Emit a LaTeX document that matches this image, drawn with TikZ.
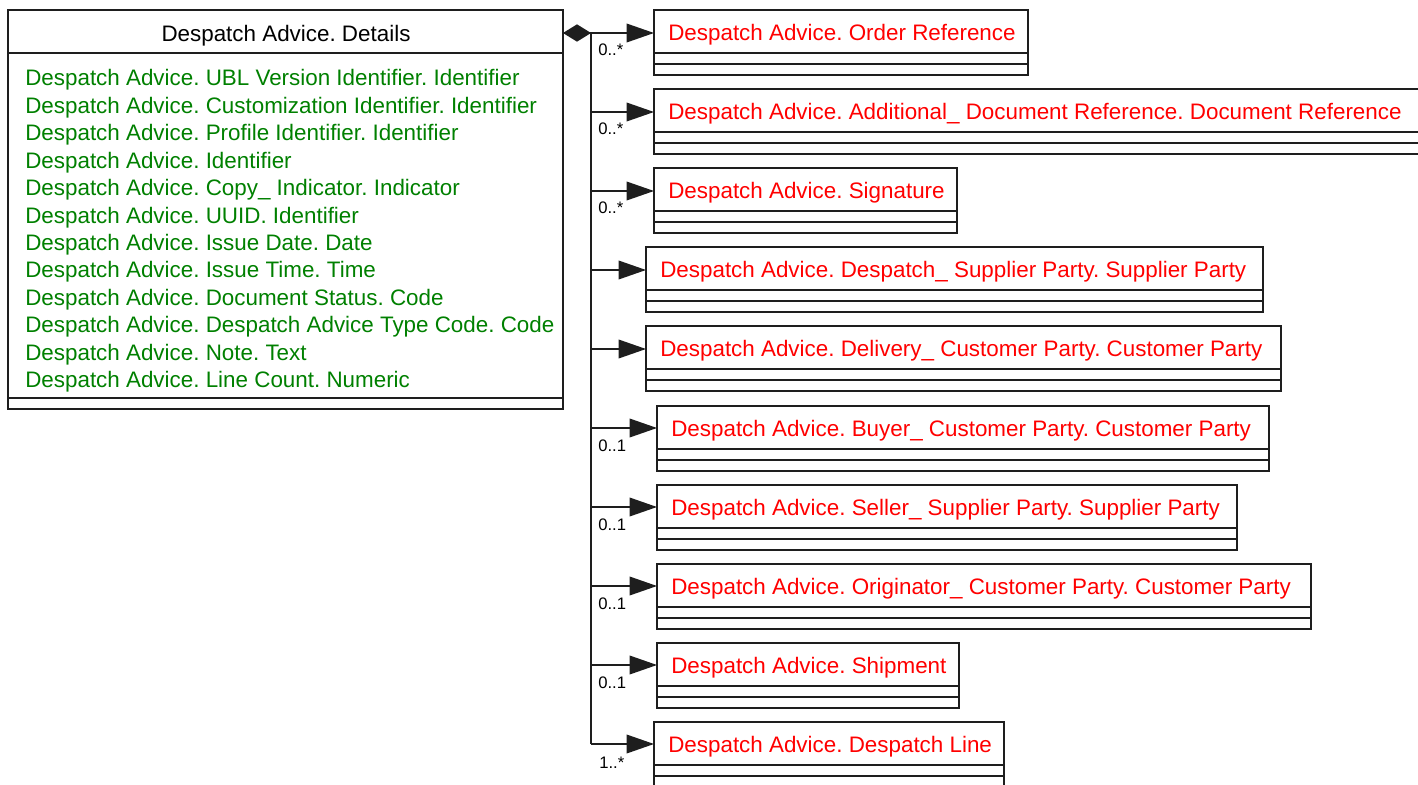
\documentclass[tikz,border=0pt]{standalone}
\usepackage{fontspec}
\setmainfont{Liberation Sans}
\usetikzlibrary{arrows.meta,calc}
\definecolor{attrgreen}{RGB}{0,128,0}
\definecolor{clsred}{RGB}{255,0,0}
\definecolor{lnc}{RGB}{30,30,30}
\tikzset{
  boxline/.style={draw=lnc, line width=1pt},
  hdrbox/.style={boxline, anchor=north west, minimum height=32.25pt, inner sep=0pt, outer sep=0pt},
  rtext/.style={text=clsred, font=\fontsize{16.8}{20}\selectfont, inner sep=0pt, anchor=west},
  attr/.style={text=attrgreen, font=\fontsize{16.8}{20}\selectfont, inner sep=0pt, anchor=west},
  mult/.style={text=black, font=\fontsize{12.5}{14}\selectfont, inner sep=0pt, anchor=west},
  conn/.style={draw=lnc, line width=1pt},
  arr/.style={conn, -{Triangle[length=20.5pt,width=14pt]}},
}
\newcommand\umlbox[5]{%
  \node[hdrbox, minimum width=#4*0.75pt] (#1) at (#2,#3) {};
  \node[rtext] (#1-t) at (#2+14,#3+25) {#5};
  \draw[boxline] (#1.south west) rectangle ($(#1.south east)+(0,22)$);
  \draw[boxline] ($(#1.south west)+(0,11)$) -- ($(#1.south east)+(0,11)$);
}
\begin{document}
\frenchspacing
\begin{tikzpicture}[x=0.75pt,y=-0.75pt]
\useasboundingbox (0,0) rectangle (1418,785);
% main class
\node[hdrbox, minimum width=555*0.75pt] (b0) at (8,10) {};
\node[text=black, font=\fontsize{16.8}{20}\selectfont, inner sep=0pt] (b0-t) at (286,36) {Despatch Advice. Details};
\draw[boxline] (b0.south west) rectangle (563,398);
\draw[boxline] (8,398) rectangle (563,409);
\foreach \t [count=\i from 0] in {
  Despatch Advice. UBL Version Identifier. Identifier,
  Despatch Advice. Customization Identifier. Identifier,
  Despatch Advice. Profile Identifier. Identifier,
  Despatch Advice. Identifier,
  Despatch Advice. Copy\_ Indicator. Indicator,
  Despatch Advice. UUID. Identifier,
  Despatch Advice. Issue Date. Date,
  Despatch Advice. Issue Time. Time,
  Despatch Advice. Document Status. Code,
  Despatch Advice. Despatch Advice Type Code. Code,
  Despatch Advice. Note. Text,
  Despatch Advice. Line Count. Numeric}
  \node[attr] (a\i) at (25,{80+27.45*\i}) {\t};
% associated classes
\umlbox{b1}{654}{10}{374}{Despatch Advice. Order Reference}
\umlbox{b2}{654}{89}{775}{Despatch Advice. Additional\_ Document Reference. Document Reference}
\umlbox{b3}{654}{168}{303}{Despatch Advice. Signature}
\umlbox{b4}{646}{247}{617}{Despatch Advice. Despatch\_ Supplier Party. Supplier Party}
\umlbox{b5}{646}{326}{635}{Despatch Advice. Delivery\_ Customer Party. Customer Party}
\umlbox{b6}{657}{406}{612}{Despatch Advice. Buyer\_ Customer Party. Customer Party}
\umlbox{b7}{657}{485}{580}{Despatch Advice. Seller\_ Supplier Party. Supplier Party}
\umlbox{b8}{657}{564}{654}{Despatch Advice. Originator\_ Customer Party. Customer Party}
\umlbox{b9}{657}{643}{302}{Despatch Advice. Shipment}
\umlbox{b10}{654}{722}{350}{Despatch Advice. Despatch Line}
% connectors
\foreach \i in {1,...,10} \coordinate (j\i) at (591,{33+79*(\i-1)});
\draw[conn, {Diamond[length=21pt,width=13pt]}-] (b0.east |- j1) -- (j1);
\draw[conn] (j1) -- (j10);
\foreach \i in {1,...,10} \draw[arr] (j\i) -- (j\i -| b\i.west);
% multiplicities
\node[mult] (m1) at (598,50) {0..*};
\node[mult] (m2) at (598,129) {0..*};
\node[mult] (m3) at (598,208) {0..*};
\node[mult] (m6) at (598,446) {0..1};
\node[mult] (m7) at (598,525) {0..1};
\node[mult] (m8) at (598,604) {0..1};
\node[mult] (m9) at (598,683) {0..1};
\node[mult] (m10) at (599,763) {1..*};
\end{tikzpicture}
\end{document}
